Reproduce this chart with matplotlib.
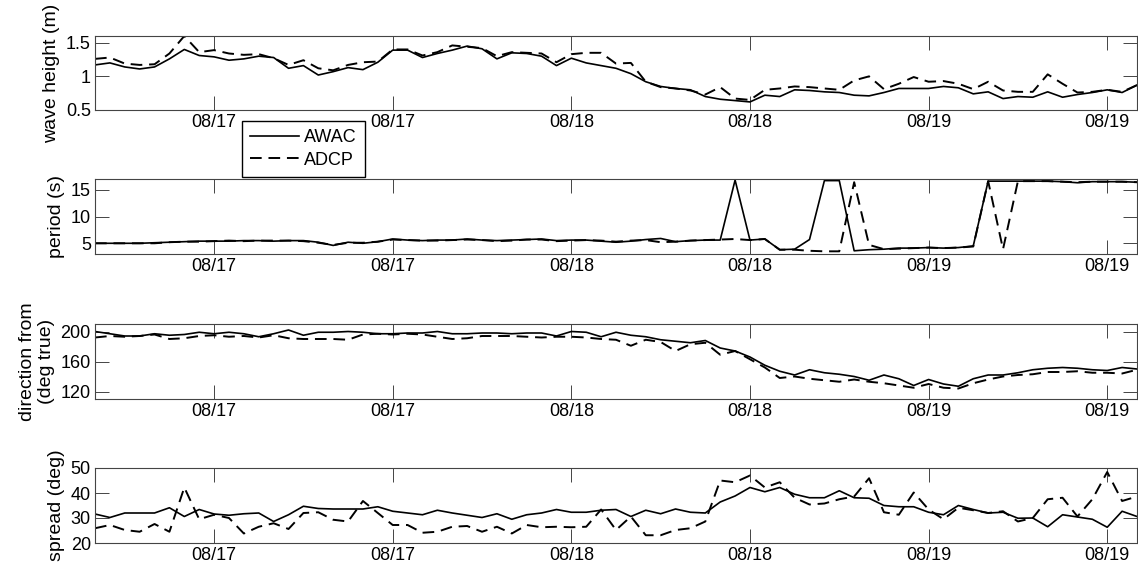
import numpy as np
import pandas as pd
import matplotlib
matplotlib.use('Agg')
import matplotlib.pyplot as plt
import matplotlib.dates as mdates

plt.rcParams['font.family'] = ['Liberation Sans', 'DejaVu Sans']
plt.rcParams['font.size'] = 13

# hourly samples, 08/16 16:00 -> 08/19 14:00
times = pd.date_range('2012-08-16 16:00', periods=71, freq='h')

# significant wave height (m)
hs_awac = [1.17, 1.20, 1.14, 1.11, 1.14, 1.26, 1.40, 1.31, 1.29, 1.24,
           1.26, 1.30, 1.28, 1.12, 1.16, 1.02, 1.07, 1.13, 1.10, 1.21,
           1.39, 1.39, 1.28, 1.34, 1.39, 1.45, 1.41, 1.26, 1.35, 1.34,
           1.30, 1.16, 1.27, 1.20, 1.16, 1.12, 1.04, 0.92, 0.85, 0.82,
           0.80, 0.70, 0.66, 0.64, 0.62, 0.72, 0.70, 0.80, 0.79, 0.77,
           0.76, 0.72, 0.71, 0.76, 0.82, 0.82, 0.82, 0.85, 0.83, 0.74,
           0.77, 0.67, 0.70, 0.69, 0.77, 0.69, 0.73, 0.76, 0.80, 0.76,
           0.87]
hs_adcp = [1.26, 1.28, 1.19, 1.17, 1.18, 1.34, 1.60, 1.36, 1.39, 1.34,
           1.32, 1.33, 1.27, 1.17, 1.24, 1.12, 1.09, 1.17, 1.21, 1.22,
           1.40, 1.40, 1.31, 1.36, 1.46, 1.44, 1.42, 1.30, 1.36, 1.35,
           1.34, 1.21, 1.33, 1.35, 1.35, 1.19, 1.20, 0.92, 0.84, 0.82,
           0.79, 0.73, 0.84, 0.67, 0.65, 0.80, 0.82, 0.85, 0.84, 0.82,
           0.80, 0.94, 1.00, 0.81, 0.89, 0.99, 0.92, 0.93, 0.89, 0.81,
           0.92, 0.79, 0.77, 0.77, 1.03, 0.89, 0.76, 0.77, 0.80, 0.77,
           0.87]

# peak period (s)
tp_awac = [5.0, 5.0, 5.0, 5.0, 5.1, 5.2, 5.3, 5.4, 5.4, 5.4,
           5.5, 5.5, 5.4, 5.5, 5.5, 5.2, 4.6, 5.2, 5.0, 5.3,
           5.8, 5.6, 5.5, 5.6, 5.6, 5.8, 5.6, 5.5, 5.6, 5.7,
           5.8, 5.5, 5.6, 5.6, 5.4, 5.2, 5.4, 5.7, 5.9, 5.3,
           5.5, 5.6, 5.6, 16.8, 5.6, 5.8, 3.8, 3.9, 5.7, 16.7,
           16.7, 3.6, 3.8, 3.9, 4.1, 4.1, 4.2, 4.1, 4.2, 4.5,
           16.6, 16.6, 16.6, 16.6, 16.6, 16.5, 16.3, 16.5, 16.5, 16.5,
           16.4]
tp_adcp = [5.0, 5.0, 5.0, 5.0, 5.0, 5.2, 5.3, 5.3, 5.4, 5.5,
           5.4, 5.5, 5.5, 5.5, 5.4, 5.1, 4.7, 5.1, 5.1, 5.3,
           5.7, 5.6, 5.5, 5.5, 5.6, 5.7, 5.6, 5.4, 5.5, 5.7,
           5.7, 5.4, 5.5, 5.6, 5.5, 5.3, 5.5, 5.6, 5.2, 5.3,
           5.5, 5.6, 5.7, 5.8, 5.6, 5.8, 3.8, 3.8, 3.6, 3.5,
           3.5, 16.4, 4.7, 3.9, 4.0, 4.1, 4.2, 4.1, 4.2, 4.4,
           16.6, 3.9, 16.6, 16.6, 16.6, 16.5, 16.4, 16.5, 16.5, 16.5,
           16.4]

# mean direction, coming from (deg true)
dir_awac = [200, 197, 194, 194, 197, 195, 196, 199, 197, 199,
            197, 193, 197, 202, 195, 199, 199, 200, 199, 197,
            197, 198, 198, 200, 197, 197, 198, 198, 197, 198,
            198, 194, 200, 199, 193, 199, 195, 193, 189, 187,
            185, 188, 178, 174, 166, 155, 147, 142, 149, 145,
            143, 140, 135, 142, 137, 128, 136, 130, 127, 137,
            142, 142, 145, 149, 151, 152, 151, 149, 148, 152,
            150]
dir_adcp = [192, 194, 193, 194, 196, 190, 191, 194, 195, 193,
            194, 192, 195, 191, 190, 190, 190, 189, 196, 197,
            196, 197, 196, 193, 190, 191, 194, 194, 194, 193,
            192, 193, 193, 192, 190, 189, 181, 189, 186, 174,
            183, 185, 169, 174, 163, 152, 138, 140, 137, 135,
            133, 136, 133, 131, 128, 125, 130, 125, 124, 131,
            136, 140, 142, 143, 146, 146, 147, 145, 145, 144,
            149]

# directional spread (deg)
spr_awac = [31.6, 30.2, 32.0, 32.0, 32.0, 34.1, 30.6, 33.4, 31.6, 31.1,
            31.7, 32.0, 28.6, 31.3, 34.7, 33.8, 33.6, 33.6, 33.6, 34.5,
            32.7, 32.0, 31.3, 33.1, 32.0, 31.1, 30.2, 31.7, 29.5, 31.3,
            32.0, 33.4, 32.3, 32.3, 33.1, 33.4, 30.6, 33.1, 31.7, 33.6,
            32.3, 32.0, 36.4, 38.8, 42.2, 40.5, 42.2, 39.5, 38.1, 38.1,
            40.9, 38.1, 37.9, 35.0, 34.5, 34.5, 32.3, 31.3, 35.0, 33.4,
            32.0, 32.3, 29.9, 30.0, 26.5, 31.3, 30.4, 29.5, 26.3, 32.7,
            30.6]
spr_adcp = [25.9, 27.2, 25.2, 24.5, 27.6, 24.5, 42.2, 29.5, 31.3, 30.0,
            23.8, 26.5, 27.9, 25.6, 32.0, 32.3, 29.3, 28.6, 36.8, 32.0,
            27.2, 27.2, 24.1, 24.5, 26.5, 26.8, 24.5, 26.5, 23.8, 27.2,
            26.3, 26.5, 26.3, 26.5, 33.4, 25.2, 30.6, 23.1, 23.1, 25.2,
            25.9, 28.6, 45.0, 44.3, 47.0, 42.2, 44.3, 38.1, 35.4, 35.8,
            37.5, 38.6, 45.9, 32.3, 31.3, 40.2, 33.4, 29.5, 34.1, 33.1,
            32.0, 32.7, 28.6, 30.0, 37.5, 38.1, 30.6, 37.5, 48.4, 36.8,
            38.6]

panels = [
    (hs_awac, hs_adcp, 'wave height (m)', (0.5, 1.6), [0.5, 1, 1.5], ['0.5', '1', '1.5']),
    (tp_awac, tp_adcp, 'period (s)', (3, 17), [5, 10, 15], ['5', '10', '15']),
    (dir_awac, dir_adcp, 'direction from\n(deg true)', (110, 210), [120, 160, 200], ['120', '160', '200']),
    (spr_awac, spr_adcp, 'spread (deg)', (20, 50), [20, 30, 40, 50], ['20', '30', '40', '50']),
]

W, H = 1138, 565
fig = plt.figure(figsize=(W / 100, H / 100), dpi=100)

# axes boxes in pixels: (top, bottom)
boxes = [(36, 110), (179, 254), (324, 399), (468, 543)]
left_px, right_px = 95, 1137

for (awac, adcp, ylab, ylim, yt, ytl), (top, bot) in zip(panels, boxes):
    ax = fig.add_axes([left_px / W, 1 - bot / H, (right_px - left_px) / W, (bot - top) / H])
    l1, = ax.plot(times, awac, color='black', lw=1.2, label='AWAC')
    l2, = ax.plot(times, adcp, color='black', lw=1.4, dashes=(6, 3.5), label='ADCP')
    ax.set_xlim(times[0], times[-1])
    ax.set_ylim(*ylim)
    ax.set_yticks(yt)
    ax.set_yticklabels(ytl)
    ax.xaxis.set_major_locator(mdates.HourLocator(byhour=[0, 12]))
    ax.xaxis.set_major_formatter(mdates.DateFormatter('%m/%d'))
    ax.tick_params(direction='in', length=10, width=0.7, color='#444444',
                   top=True, right=True, labelsize=13, pad=3)
    for sp in ax.spines.values():
        sp.set_color('#444444')
        sp.set_linewidth(0.8)
    ax.set_ylabel(ylab, fontsize=14, labelpad=4, linespacing=1.15)

fig.legend([l1, l2], ['AWAC', 'ADCP'], loc='upper left',
           bbox_to_anchor=(242 / W, 1 - 121 / H), fontsize=13,
           frameon=True, fancybox=False, edgecolor='black', framealpha=1,
           handlelength=2.7, handletextpad=0.3, borderpad=0.45,
           labelspacing=0.3, borderaxespad=0)

fig.savefig('out.png', dpi=100)
